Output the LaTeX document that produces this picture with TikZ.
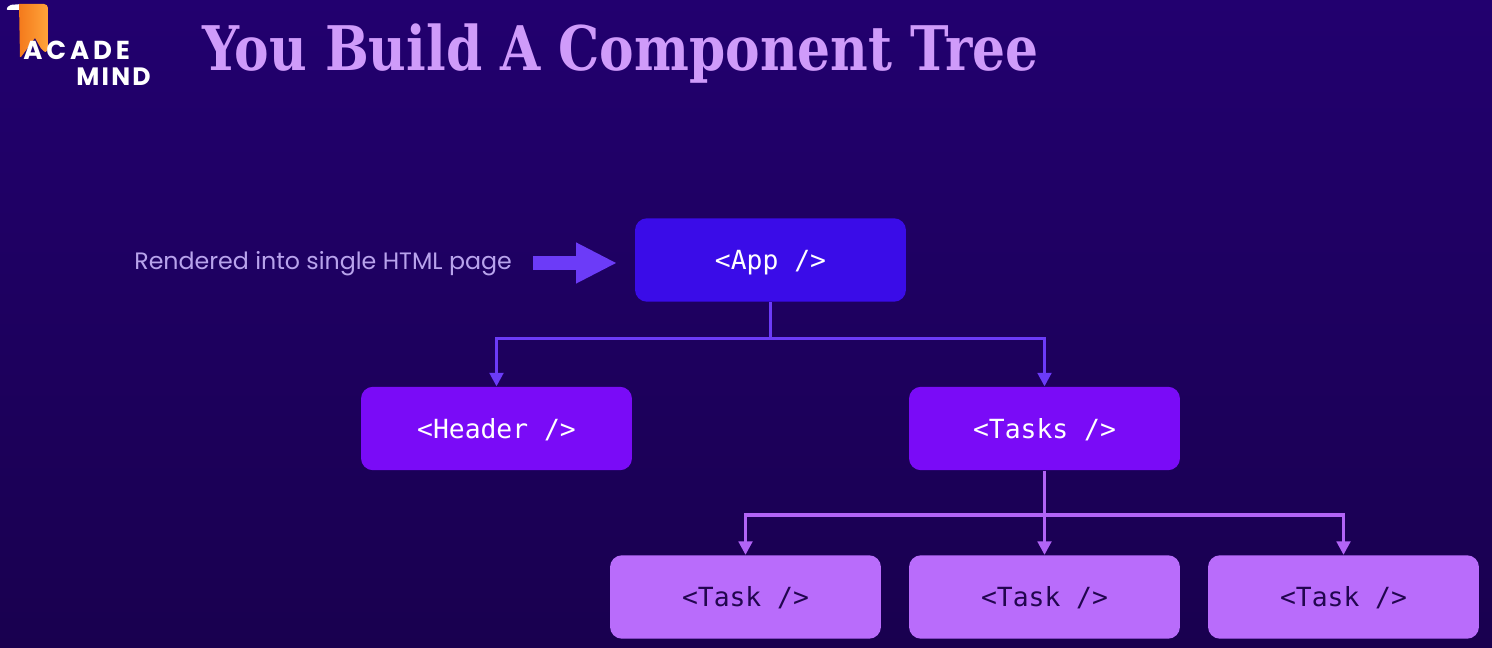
\documentclass[tikz,border=0pt]{standalone}
\usepackage{fontspec}
\usetikzlibrary{arrows.meta}
\setmainfont{DejaVu Sans}
\setmonofont{DejaVu Sans Mono}
\newfontfamily\titlefont[FakeStretch=0.843]{DejaVu Serif}
\newfontfamily\labelfont{Poppins}
\newfontfamily\acadefont[LetterSpace=15]{Poppins}
\newfontfamily\mindfont[LetterSpace=9]{Poppins}
\definecolor{bgtop}{HTML}{22006F}
\definecolor{bgbottom}{HTML}{19004F}
\definecolor{appblue}{HTML}{3A0CE8}
\definecolor{headerviolet}{HTML}{7A0BF7}
\definecolor{tasklilac}{HTML}{B96CFB}
\definecolor{linkblue}{HTML}{6C3BF8}
\definecolor{linklilac}{HTML}{B264F6}
\definecolor{titlelilac}{HTML}{CF9BFA}
\definecolor{labellilac}{HTML}{B8A3EC}
\definecolor{tasktext}{HTML}{22064F}
\definecolor{logoleft}{HTML}{F47A1C}
\definecolor{logoright}{HTML}{FFA43A}
\tikzset{
	box/.style={rounded corners=0.24cm, minimum width=5.42cm, minimum height=1.67cm, inner sep=0pt, text height=0.49cm, text depth=0.1cm, font=\ttfamily\fontsize{15}{18}\selectfont},
	appbox/.style={box, fill=appblue, text=white},
	headerbox/.style={box, fill=headerviolet, text=white},
	taskbox/.style={box, fill=tasklilac, text=tasktext},
	link/.style={line width=0.065cm, color=linkblue},
	linkarrow/.style={link, -{Triangle[length=0.27cm,width=0.27cm]}},
	tasklink/.style={line width=0.065cm, color=linklilac},
	tasklinkarrow/.style={tasklink, -{Triangle[length=0.27cm,width=0.27cm]}},
	logotext/.style={inner sep=0pt, anchor=base west, text=white}
}
\begin{document}
\begin{tikzpicture}[x=0.02cm,y=-0.02cm]
	\useasboundingbox (0,0) rectangle (1492,648);
	\fill[top color=bgtop, bottom color=bgbottom] (0,0) rectangle (1492,648); %Background
	%Logo
	\fill[white, rounded corners=0.04cm] (6,10) -- (9,5) -- (22,4) -- (22,10) -- cycle;
	\shade[left color=logoleft, right color=logoright, rounded corners=0.08cm] (19,4) -- (48,4) -- (48,52) -- (43,52) [sharp corners] -- (35,38) -- (21,57) -- (20,57) -- cycle;
	\node[logotext, font=\acadefont\bfseries\fontsize{14.8}{16}\selectfont] (acade) at (23,60) {ACADE};
	\node[logotext, font=\mindfont\bfseries\fontsize{14.3}{16}\selectfont] (mind) at (76,86) {MIND};
	%Title
	\node[anchor=base west, inner sep=0pt, text=titlelilac, font=\titlefont\bfseries\fontsize{35}{40}\selectfont] (title) at (202,71) {You Build A Component Tree};
	%Boxes
	\node[appbox] (app) at (770.5,260) {<App />};
	\node[headerbox] (header) at (496.5,428.5) {<Header />};
	\node[headerbox] (tasks) at (1044.5,428.5) {<Tasks />};
	\node[taskbox] (taskone) at (745.5,597) {<Task />};
	\node[taskbox] (tasktwo) at (1044.5,597) {<Task />};
	\node[taskbox] (taskthree) at (1343.5,597) {<Task />};
	%Label and big arrow
	\node[anchor=base west, inner sep=0pt, text=labellilac, font=\labelfont\fontsize{13.5}{16}\selectfont] (label) at (134,270) {Rendered into single HTML page};
	\coordinate (arrowstart) at (533,263);
	\coordinate (arrowend) at (617,263);
	\draw[line width=0.29cm, color=linkblue, -{Triangle[length=0.82cm,width=0.76cm]}] (arrowstart) -- (arrowend);
	%Connectors
	\coordinate (appbus) at (770.5,338.5);
	\coordinate (tasksbus) at (1044.5,515);
	\draw[link] (app) -- (appbus);
	\draw[linkarrow] (appbus) -| (header);
	\draw[linkarrow] (appbus) -| (tasks);
	\draw[tasklink] (tasks) -- (tasksbus);
	\draw[tasklinkarrow] (tasksbus) -| (taskone);
	\draw[tasklinkarrow] (tasksbus) -- (tasktwo);
	\draw[tasklinkarrow] (tasksbus) -| (taskthree);
\end{tikzpicture}
\end{document}
